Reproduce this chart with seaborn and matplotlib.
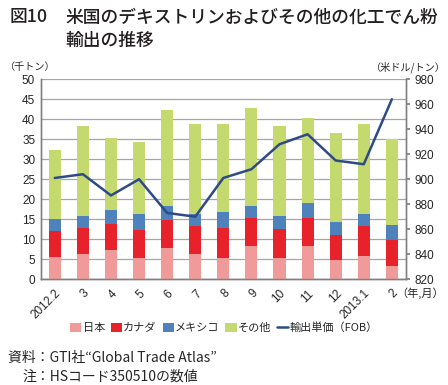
import numpy as np
import pandas as pd
import matplotlib
matplotlib.use("Agg")
import matplotlib.pyplot as plt
import seaborn as sns
from matplotlib.patches import Patch
from matplotlib.lines import Line2D

months = ["2012.2", "3", "4", "5", "6", "7", "8", "9", "10", "11", "12", "2013.1", "2"]
japan = [5.6, 6.4, 7.25, 5.3, 7.9, 6.25, 5.4, 8.3, 5.2, 8.2, 4.75, 5.75, 3.3]
canada = [6.4, 6.3, 6.65, 6.95, 7.0, 7.0, 7.5, 7.0, 7.4, 7.1, 6.35, 7.5, 6.5]
mexico = [3.0, 3.2, 3.5, 4.05, 3.35, 3.0, 3.85, 2.95, 3.2, 3.7, 3.15, 2.95, 3.8]
other = [17.4, 22.5, 17.9, 17.9, 24.15, 22.65, 22.05, 24.5, 22.45, 21.25, 22.35, 22.6, 21.4]
price = [901, 904, 887, 900, 873, 870, 901, 908, 928, 936, 915, 912, 964]

series_names = ["日本", "カナダ", "メキシコ", "その他"]
colors = ["#F19A9A", "#E8222A", "#4F81BD", "#C5DA6E"]
line_color = "#2E4A87"
line_name = "輸出単価（FOB）"

sns.set_theme(style="white")
plt.rcParams["font.family"] = ["Liberation Sans", "Noto Sans CJK JP", "DejaVu Sans"]

df = pd.DataFrame({"month": months, "日本": japan, "カナダ": canada,
                   "メキシコ": mexico, "その他": other, "price": price})
cum = df[series_names].cumsum(axis=1)

fig = plt.figure(figsize=(4.48, 3.85), dpi=100)
ax = fig.add_axes([0.091, 0.275, 0.815, 0.519])

for name, col in reversed(list(zip(series_names, colors))):
    sns.barplot(x=df["month"], y=cum[name], order=months, color=col, saturation=1,
                width=0.43, linewidth=0, ax=ax, zorder=3)

ax.set_ylim(0, 50)
ax.set_yticks(np.arange(0, 51, 5))
ax.set_xlim(-0.5, len(months) - 0.5)
ax.yaxis.grid(True, color="#A6A6A6", lw=0.9, zorder=0)
ax.set_axisbelow(True)
ax.set_xlabel("")
ax.set_ylabel("")
ax.set_xticks(range(len(months)))
ax.set_xticklabels(months, rotation=45, ha="right", rotation_mode="anchor", fontsize=8.5)
ax.set_xticks(np.arange(-0.5, len(months), 1), minor=True)
ax.tick_params(axis="x", which="major", length=0, pad=6)
ax.tick_params(axis="x", which="minor", length=3, color="#808080", direction="out")
ax.tick_params(axis="y", labelsize=8.5, length=0, pad=4)

ax2 = ax.twinx()
sns.lineplot(x=np.arange(len(months)), y=df["price"], ax=ax2, color=line_color, lw=1.8)
ax2.set_ylim(820, 980)
ax2.set_yticks(np.arange(820, 981, 20))
ax2.set_ylabel("")
ax2.tick_params(axis="y", labelsize=8.5, length=3, color="#808080", pad=3, direction="out")

for a in (ax, ax2):
    a.spines["top"].set_visible(False)
    for s in ("left", "right", "bottom"):
        a.spines[s].set_color("#808080")
        a.spines[s].set_linewidth(1)

title_kw = dict(fontsize=12.8, fontweight="medium", va="center", ha="left",
                family=["Noto Sans CJK JP"], color="#231F20")
fig.text(0.022, 0.955, "図10", **title_kw)
fig.text(0.145, 0.955, "米国のデキストリンおよびその他の化工でん粉", **title_kw)
fig.text(0.145, 0.893, "輸出の推移", **title_kw)

fig.text(0.012, 0.826, "（千トン）", fontsize=7.3, va="center", ha="left", family=["Noto Sans CJK JP"])
fig.text(0.995, 0.826, "（米ドル/トン）", fontsize=7.3, va="center", ha="right", family=["Noto Sans CJK JP"])
fig.text(0.885, 0.238, "（年,月）", fontsize=8, va="center", ha="left", family=["Noto Sans CJK JP"])

handles = [Patch(facecolor=c, edgecolor="none") for c in colors]
handles.append(Line2D([0], [0], color=line_color, lw=1.8))
fig.legend(handles, series_names + [line_name], loc="center", bbox_to_anchor=(0.5, 0.148),
           ncol=5, frameon=False, handlelength=1.0, handleheight=0.8,
           handletextpad=0.1, columnspacing=0.55, prop={"family": ["Noto Sans CJK JP"], "size": 8})

fig.text(0.018, 0.07, "資料：GTI社“Global Trade Atlas”", fontsize=10, va="center", ha="left",
         family=["Noto Sans CJK JP", "DejaVu Sans"])
fig.text(0.05, 0.021, "注：HSコード350510の数値", fontsize=10, va="center", ha="left",
         family=["Noto Sans CJK JP", "DejaVu Sans"])

fig.savefig("out.png", dpi=100)
